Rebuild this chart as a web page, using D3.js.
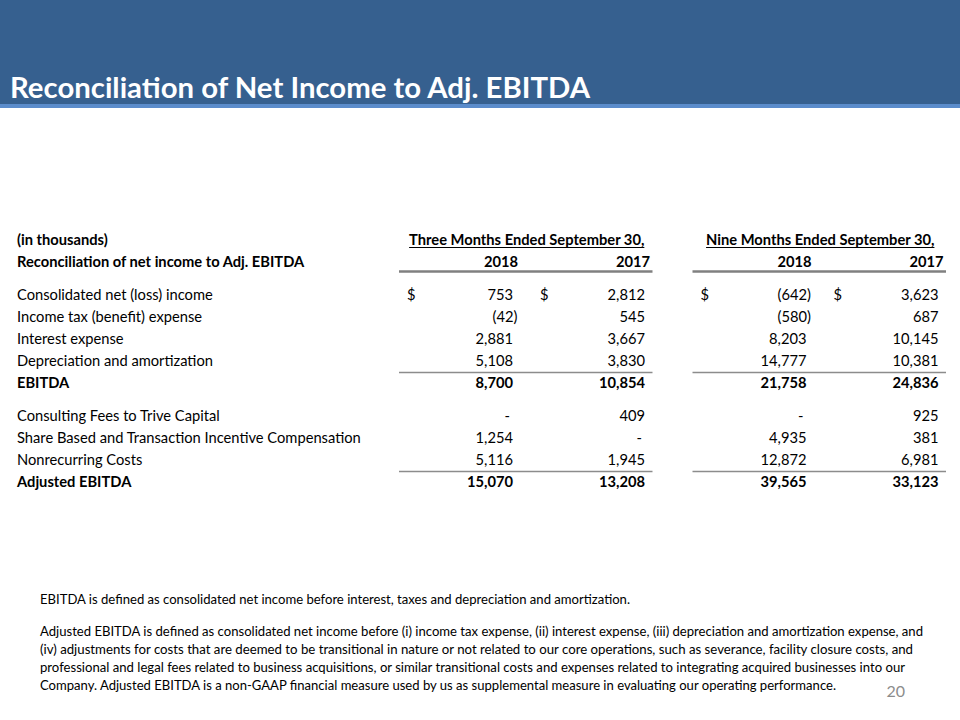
<!DOCTYPE html>
<html><head><meta charset="utf-8">
<script src="https://cdn.jsdelivr.net/npm/d3@7"></script>
<style>html,body{margin:0;padding:0;background:#fff;}svg{display:block;}</style>
</head><body>
<script>
// ---- data ----
const title = "Reconciliation of Net Income to Adj. EBITDA";
const unitsLabel = "(in thousands)";
const subTitle = "Reconciliation of net income to Adj. EBITDA";
const periods = ["Three Months Ended September 30,", "Nine Months Ended September 30,"];
const years = ["2018", "2017"];
const rowLabels = [
  "Consolidated net (loss) income",
  "Income tax (benefit) expense",
  "Interest expense",
  "Depreciation and amortization",
  "EBITDA",
  "Consulting Fees to Trive Capital",
  "Share Based and Transaction Incentive Compensation",
  "Nonrecurring Costs",
  "Adjusted EBITDA"
];
const rowSection = [1, 1, 1, 1, 1, 2, 2, 2, 2];
const boldRows = ["EBITDA", "Adjusted EBITDA"];
const dollarRows = ["Consolidated net (loss) income"];
const totalRows = ["EBITDA", "Adjusted EBITDA"];
const threeMonths2018 = [753, -42, 2881, 5108, 8700, 0, 1254, 5116, 15070];
const threeMonths2017 = [2812, 545, 3667, 3830, 10854, 409, 0, 1945, 13208];
const nineMonths2018 = [-642, -580, 8203, 14777, 21758, 0, 4935, 12872, 39565];
const nineMonths2017 = [3623, 687, 10145, 10381, 24836, 925, 381, 6981, 33123];
const footnote1 = "EBITDA is defined as consolidated net income before interest, taxes and depreciation and amortization.";
const footnote2 = [
  "Adjusted EBITDA is defined as consolidated net income before (i) income tax expense, (ii) interest expense, (iii) depreciation and amortization expense, and",
  "(iv) adjustments for costs that are deemed to be transitional in nature or not related to our core operations, such as severance, facility closure costs, and",
  "professional and legal fees related to business acquisitions, or similar transitional costs and expenses related to integrating acquired businesses into our",
  "Company.  Adjusted EBITDA is a non-GAAP financial measure used by us as supplemental measure in evaluating our operating performance."
];
const pageNumber = "20";

// ---- drawing ----
const W = 960, H = 720;
const FONT = "Lato, 'Open Sans', sans-serif";
const svg = d3.select("body").append("svg").attr("width", W).attr("height", H)
  .style("font-family", FONT);

// header band
svg.append("rect").attr("x", 0).attr("y", 0).attr("width", W).attr("height", 104).attr("fill", "#36608f");
svg.append("rect").attr("x", 0).attr("y", 104).attr("width", W).attr("height", 4).attr("fill", "#5b8ccb");
svg.append("text").attr("x", 10).attr("y", 98).attr("fill", "#fff")
  .attr("font-size", 29).attr("font-weight", 700).text(title)
  .attr("textLength", 580).attr("lengthAdjust", "spacingAndGlyphs");

// row positions: linear scale over row slots with half-slot gap between sections
const slot = rowLabels.map((d, i) => i + 3 + (rowSection[i] - 1) * 0.5 + 0.5);
const y = d3.scaleLinear().domain([0, 1]).range([240, 262]);

// columns
const cols = [
  {p: 0, yr: 0, vals: threeMonths2018},
  {p: 0, yr: 1, vals: threeMonths2017},
  {p: 1, yr: 0, vals: nineMonths2018},
  {p: 1, yr: 1, vals: nineMonths2017}
];
const xGroup = d3.scaleBand().domain(periods).range([399, 946]).paddingInner(0.1363);
const xYear = d3.scaleOrdinal().domain(years).range([114, 246]);
const xDollar = d3.scaleOrdinal().domain(years).range([8, 141]);
const bw = xGroup.bandwidth();

const fmt = d3.format(",");
const fmtVal = v => v === 0 ? "-" : v < 0 ? "(" + fmt(-v) + ")" : fmt(v);

const TXT = "#000";
const FS = 14.7;
const tbl = svg.append("g").attr("font-size", FS).attr("fill", TXT);

// labels
tbl.append("text").attr("x", 17).attr("y", y(0) + 5).attr("font-weight", 700).text(unitsLabel);
tbl.append("text").attr("x", 17).attr("y", y(1) + 5).attr("font-weight", 700).text(subTitle);
tbl.selectAll("text.row").data(rowLabels).join("text").attr("class", "row")
  .attr("x", 17).attr("y", (d, i) => y(slot[i] - 1) + 5)
  .attr("font-weight", d => boldRows.includes(d) ? 700 : 400)
  .text(d => d);

// period headers (underlined)
periods.forEach(p => {
  const cx = xGroup(p) + bw / 2 + 1;
  const t = tbl.append("text").attr("x", cx).attr("y", y(0) + 5).attr("text-anchor", "middle")
    .attr("font-weight", 700).text(p);
  const w = t.node().getComputedTextLength();
  tbl.append("line").attr("x1", cx - w / 2).attr("x2", cx + w / 2)
    .attr("y1", y(0) + 7.5).attr("y2", y(0) + 7.5).attr("stroke", TXT).attr("stroke-width", 1);
  years.forEach(yr => {
    tbl.append("text").attr("x", xGroup(p) + xYear(yr) + 5).attr("y", y(1) + 5)
      .attr("text-anchor", "end").attr("font-weight", 700).text(yr);
  });
  // header rule
  tbl.append("line").attr("x1", xGroup(p)).attr("x2", xGroup(p) + bw)
    .attr("y1", y(1) + 9.5).attr("y2", y(1) + 9.5).attr("stroke", "#808080").attr("stroke-width", 2.5);
  // subtotal rules
  rowLabels.forEach((r, i) => {
    if (totalRows.includes(r)) {
      const ly = Math.round(y(slot[i] - 1) - 11) + 0.5;
      tbl.append("line").attr("x1", xGroup(p)).attr("x2", xGroup(p) + bw)
        .attr("y1", ly).attr("y2", ly).attr("stroke", "#8c8c8c").attr("stroke-width", 1.3);
    }
  });
});

// values
cols.forEach(c => {
  const gx = xGroup(periods[c.p]);
  const yr = years[c.yr];
  tbl.selectAll(null).data(c.vals).join("text")
    .attr("x", d => gx + xYear(yr) + (d < 0 ? 4.5 : d === 0 ? -3 : 0))
    .attr("y", (d, i) => y(slot[i] - 1) + 5)
    .attr("text-anchor", "end")
    .attr("font-weight", (d, i) => boldRows.includes(rowLabels[i]) ? 700 : 400)
    .text(fmtVal);
  rowLabels.forEach((r, i) => {
    if (dollarRows.includes(r)) {
      tbl.append("text").attr("x", gx + xDollar(yr)).attr("y", y(slot[i] - 1) + 5).text("$");
    }
  });
});

// footnotes
const fn = svg.append("g").attr("font-size", 12.5).attr("fill", "#000").style("white-space", "pre");
fn.append("text").attr("x", 40).attr("y", 604).text(footnote1)
  .attr("textLength", 590).attr("lengthAdjust", "spacingAndGlyphs");
const fnWidths = [883, 873, 865, 796];
fn.selectAll("text.p2").data(footnote2).join("text").attr("class", "p2")
  .attr("x", 40).attr("y", (d, i) => 636 + i * 18)
  .attr("textLength", (d, i) => fnWidths[i]).attr("lengthAdjust", "spacingAndGlyphs")
  .text(d => d);

svg.append("text").attr("x", 905).attr("y", 697).attr("text-anchor", "end")
  .attr("font-size", 16).attr("fill", "#8c8c8c").text(pageNumber);
</script>
</body></html>
